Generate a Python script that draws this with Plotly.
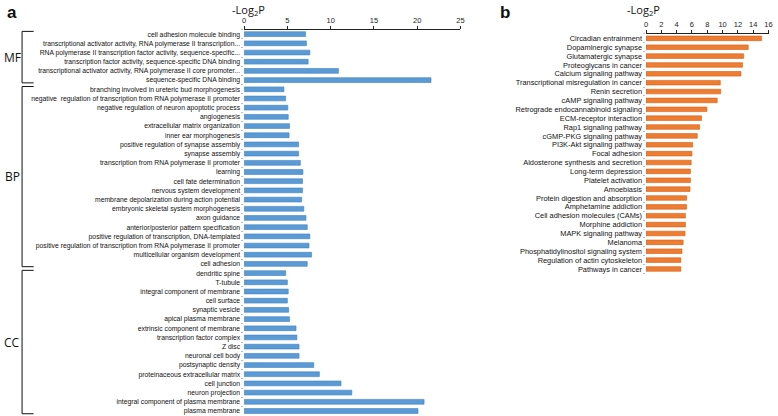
import plotly.graph_objects as go

# ---------------- Panel a: GO terms ----------------
mf_terms = [
    "cell adhesion molecule binding",
    "transcriptional activator activity, RNA polymerase II transcription...",
    "RNA polymerase II transcription factor activity, sequence-specific...",
    "transcription factor activity, sequence-specific DNA binding",
    "transcriptional activator activity, RNA polymerase II core promoter...",
    "sequence-specific DNA binding",
]
mf_values = [7.1, 7.2, 7.6, 7.4, 10.9, 21.6]

bp_terms = [
    "branching involved in ureteric bud morphogenesis",
    "negative  regulation of transcription from RNA polymerase II promoter",
    "negative regulation of neuron apoptotic process",
    "angiogenesis",
    "extracellular matrix organization",
    "inner ear morphogenesis",
    "positive regulation of synapse assembly",
    "synapse assembly",
    "transcription from RNA polymerase II promoter",
    "learning",
    "cell fate determination",
    "nervous system development",
    "membrane depolarization during action potential",
    "embryonic skeletal system morphogenesis",
    "axon guidance",
    "anterior/posterior pattern specification",
    "positive regulation of transcription, DNA-templated",
    "positive regulation of transcription from RNA polymerase II promoter",
    "multicellular organism development",
    "cell adhesion",
]
bp_values = [4.6, 4.8, 5.05, 5.1, 5.25, 5.2, 6.3, 6.3, 6.5, 6.8, 6.75, 6.75,
             6.65, 6.9, 7.15, 7.3, 7.6, 7.5, 7.8, 7.3]

cc_terms = [
    "dendritic spine",
    "T-tubule",
    "integral component of membrane",
    "cell surface",
    "synaptic vesicle",
    "apical plasma membrane",
    "extrinsic component of membrane",
    "transcription factor complex",
    "Z disc",
    "neuronal cell body",
    "postsynaptic density",
    "proteinaceous extracellular matrix",
    "cell junction",
    "neuron projection",
    "integral component of plasma membrane",
    "plasma membrane",
]
cc_values = [4.8, 5.0, 5.1, 5.0, 5.15, 5.25, 6.0, 6.1, 6.35, 6.35, 8.05, 8.7,
             11.2, 12.45, 20.8, 20.1]

go_ticks = [0, 5, 10, 15, 20, 25]

# ---------------- Panel b: KEGG pathways ----------------
kegg_terms = [
    "Circadian entrainment",
    "Dopaminergic synapse",
    "Glutamatergic synapse",
    "Proteoglycans in cancer",
    "Calcium signaling pathway",
    "Transcriptional misregulation in cancer",
    "Renin secretion",
    "cAMP signaling pathway",
    "Retrograde endocannabinoid signaling",
    "ECM-receptor interaction",
    "Rap1 signaling pathway",
    "cGMP-PKG signaling pathway",
    "PI3K-Akt signaling pathway",
    "Focal adhesion",
    "Aldosterone synthesis and secretion",
    "Long-term depression",
    "Platelet activation",
    "Amoebiasis",
    "Protein digestion and absorption",
    "Amphetamine addiction",
    "Cell adhesion molecules (CAMs)",
    "Morphine addiction",
    "MAPK signaling pathway",
    "Melanoma",
    "Phosphatidylinositol signaling system",
    "Regulation of actin cytoskeleton",
    "Pathways in cancer",
]
kegg_values = [15.1, 13.35, 12.75, 12.6, 12.4, 9.7, 9.75, 9.3, 7.95, 7.25, 7.0,
               6.7, 6.1, 6.0, 5.9, 5.8, 5.8, 5.75, 5.3, 5.3, 5.15, 5.15, 5.1,
               4.85, 4.7, 4.55, 4.55]
kegg_ticks = [0, 2, 4, 6, 8, 10, 12, 14, 16]

groups = [("MF", len(mf_terms)), ("BP", len(bp_terms)), ("CC", len(cc_terms))]

go_terms = mf_terms + bp_terms + cc_terms
go_values = mf_values + bp_values + cc_values

LABEL_FONT = "Liberation Sans, Arial, sans-serif"
TITLE_FONT = "Open Sans, Calibri, Carlito, sans-serif"

fig = go.Figure()
fig.add_trace(go.Bar(
    x=go_values, y=go_terms, orientation="h", width=0.52,
    marker=dict(color="#5b9bd5", line=dict(color="#3f7fc0", width=0.6)),
    xaxis="x", yaxis="y", showlegend=False,
))
fig.add_trace(go.Bar(
    x=kegg_values, y=kegg_terms, orientation="h", width=0.52,
    marker=dict(color="#ee7d31", line=dict(color="#d0601a", width=0.6)),
    xaxis="x2", yaxis="y2", showlegend=False,
))

axis_common = dict(
    side="top", showline=True, linecolor="#222", linewidth=1,
    ticks="outside", ticklen=3, tickcolor="#222", showgrid=False, zeroline=False,
    tickfont=dict(family=LABEL_FONT, size=7.5, color="#222"),
)
ycommon = dict(autorange="reversed", showline=False, ticks="outside", ticklen=2,
               tickcolor="#bbb", tickson="boundaries", ticklabelstandoff=3,
               showgrid=False, tickmode="array")
fig.update_layout(
    width=778, height=416,
    margin=dict(l=0, r=0, t=0, b=0),
    paper_bgcolor="white", plot_bgcolor="white",
    xaxis=dict(domain=[0.3136, 0.5938], range=[0, 25], tickvals=go_ticks,
               anchor="y", **axis_common),
    yaxis=dict(domain=[0.001, 0.929], anchor="x",
               categoryorder="array", categoryarray=go_terms,
               tickvals=go_terms, ticktext=go_terms,
               tickfont=dict(family=LABEL_FONT, size=6.8, color="#111"), **ycommon),
    xaxis2=dict(domain=[0.8342, 0.9929], range=[0, 16], tickvals=kegg_ticks,
                anchor="y2", **axis_common),
    yaxis2=dict(domain=[0.3428, 0.9185], anchor="x2",
                categoryorder="array", categoryarray=kegg_terms,
                tickvals=kegg_terms, ticktext=kegg_terms,
                tickfont=dict(family=LABEL_FONT, size=7.4, color="#111"), **ycommon),
)

# group brackets tied to the category axis positions
shapes = []
annotations = []
start = 0
for name, n in groups:
    y0 = start - 0.3
    y1 = start + n - 0.7
    x_v = 0.026
    x_h = 0.041
    for (xa, xb, ya, yb) in [(x_v, x_v, y0, y1), (x_v, x_h, y0, y0), (x_v, x_h, y1, y1)]:
        shapes.append(dict(type="line", xref="paper", yref="y", x0=xa, x1=xb,
                           y0=ya, y1=yb, line=dict(color="#111", width=1)))
    annotations.append(dict(text=name, xref="paper", yref="y", x=0.013,
                            y=(y0 + y1) / 2, xanchor="center", yanchor="middle",
                            showarrow=False,
                            font=dict(family=TITLE_FONT, size=12, color="#111")))
    start += n

annotations += [
    dict(text="<b>a</b>", xref="paper", yref="paper", x=0.004, y=0.997,
         xanchor="left", yanchor="top", showarrow=False,
         font=dict(family="Liberation Sans, Arial, sans-serif", size=17, color="#111")),
    dict(text="<b>b</b>", xref="paper", yref="paper", x=0.643, y=0.997,
         xanchor="left", yanchor="top", showarrow=False,
         font=dict(family="Liberation Sans, Arial, sans-serif", size=17, color="#111")),
    dict(text="-Log<sub>2</sub>P", xref="paper", yref="paper", x=248 / 778, y=1.0,
         xanchor="center", yanchor="top", showarrow=False,
         font=dict(family=TITLE_FONT, size=11, color="#111")),
    dict(text="-Log<sub>2</sub>P", xref="paper", yref="paper", x=646 / 778, y=1.0,
         xanchor="center", yanchor="top", showarrow=False,
         font=dict(family=TITLE_FONT, size=11, color="#111")),
]
fig.update_layout(shapes=shapes, annotations=annotations)

fig.write_html(
    "out.html",
    config={"displayModeBar": False},
    post_script="document.body.style.margin='0';document.body.style.overflow='hidden';",
)
